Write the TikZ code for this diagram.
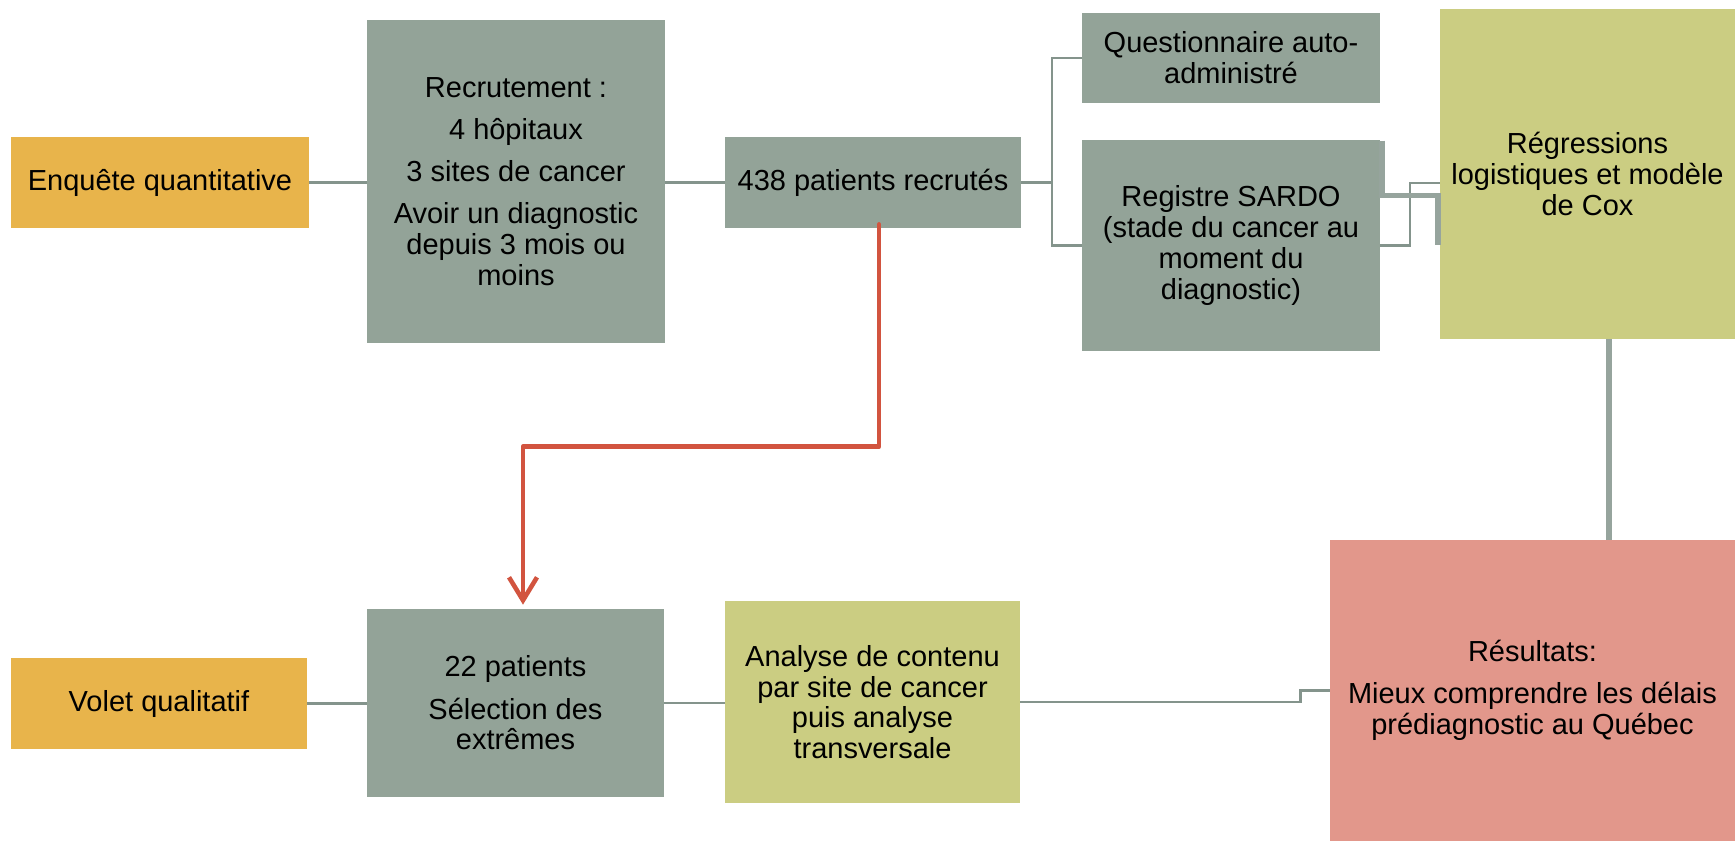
\documentclass[tikz,border=0pt]{standalone}
\usepackage{fontspec}
\setmainfont{Liberation Sans}
\usepackage{tikz}
\usetikzlibrary{arrows.meta}

\definecolor{orangebox}{HTML}{E8B44B}
\definecolor{greybox}{HTML}{93A398}
\definecolor{olivebox}{HTML}{CBCD82}
\definecolor{salmonbox}{HTML}{E2978B}
\definecolor{redline}{HTML}{D2543F}
\definecolor{linkgrey}{HTML}{84948C}

\begin{document}
\begin{tikzpicture}[x=0.02cm,y=-0.02cm,>={Straight Barb[length=4.6mm,width=5.6mm]},
                    font=\fontsize{16.5pt}{17.5pt}\selectfont]
  \tikzstyle{box} = [rectangle, inner sep=2pt, align=center, text=black]
  \tikzstyle{link} = [draw=linkgrey, line width=1.6pt]
  \tikzstyle{thicklink} = [draw=linkgrey!85!white, line width=3.4pt]
  \tikzstyle{redarrow} = [draw=redline, line width=2.6pt, line cap=round, line join=round]
  \useasboundingbox (0,0) rectangle (1735,843);

  % volet quantitatif
  \node[box, fill=orangebox, minimum width=5.96cm, minimum height=1.82cm] (enq) at (160,182.5) {Enquête quantitative};
  \node[box, fill=greybox, minimum width=5.96cm, minimum height=6.46cm] (recr) at (516,181.5)
    {Recrutement :\\[6.5pt] 4 hôpitaux\\[6.5pt] 3 sites de cancer\\[6.5pt] Avoir un diagnostic\\ depuis 3 mois ou\\ moins};
  \node[box, fill=greybox, minimum width=5.92cm, minimum height=1.82cm] (pat) at (873,182.5) {438 patients recrutés};
  \node[box, fill=greybox, minimum width=5.96cm, minimum height=1.80cm] (quest) at (1231,58) {Questionnaire auto-\\administré};
  \node[box, fill=greybox, minimum width=5.96cm, minimum height=4.22cm] (reg) at (1231,245.5)
    {Registre SARDO\\(stade du cancer au\\moment du\\diagnostic)};
  \node[box, fill=olivebox, minimum width=5.90cm, minimum height=6.60cm] (regr) at (1587.5,174)
    {Régressions\\logistiques et modèle\\de Cox};

  % volet qualitatif
  \node[box, fill=orangebox, minimum width=5.92cm, minimum height=1.82cm] (vol) at (159,703.5) {Volet qualitatif};
  \node[box, fill=greybox, minimum width=5.94cm, minimum height=3.76cm] (p22) at (515.5,703)
    {22 patients\\[6.5pt] Sélection des\\extrêmes};
  \node[box, fill=olivebox, minimum width=5.90cm, minimum height=4.04cm] (ana) at (872.5,702)
    {Analyse de contenu\\par site de cancer\\puis analyse\\transversale};
  \node[box, fill=salmonbox, minimum width=8.10cm, minimum height=6.02cm] (res) at (1532.5,690.5)
    {Résultats:\\[6.5pt] Mieux comprendre les délais\\prédiagnostic au Québec};

  % connecteurs
  \draw[link] (enq.east) -- (enq.east -| recr.west);
  \draw[link] (recr.east |- pat.west) -- (pat.west);
  \draw[link] (pat.east) -- (1052,182.5) coordinate (br);
  \draw[link] (br) |- (quest.west);
  \draw[link] (br) |- (reg.west);
  \draw[link] (reg.east) -| (1410,183) -- (1410,183 -| regr.west);
  \draw[thicklink] ([xshift=0.04cm,yshift=-0.02cm]reg.north east) |- (1437.5,195.5) -- (1437.5,245);
  \draw[thicklink] ([xshift=0.43cm]regr.south) coordinate (rd) -- (rd |- res.north);
  \draw[link] (vol.east) -- (vol.east -| p22.west);
  \draw[link] (p22.east) -- (p22.east -| ana.west);
  \draw[link] (ana.east) -| ([xshift=-0.58cm]res.west) -- (res.west);
  \draw[redarrow,->] ([xshift=0.12cm,yshift=0.08cm]pat.south) |- ([xshift=0.15cm,yshift=3.24cm]p22.north)
    -- ([xshift=0.15cm,yshift=0.08cm]p22.north);
\end{tikzpicture}
\end{document}
